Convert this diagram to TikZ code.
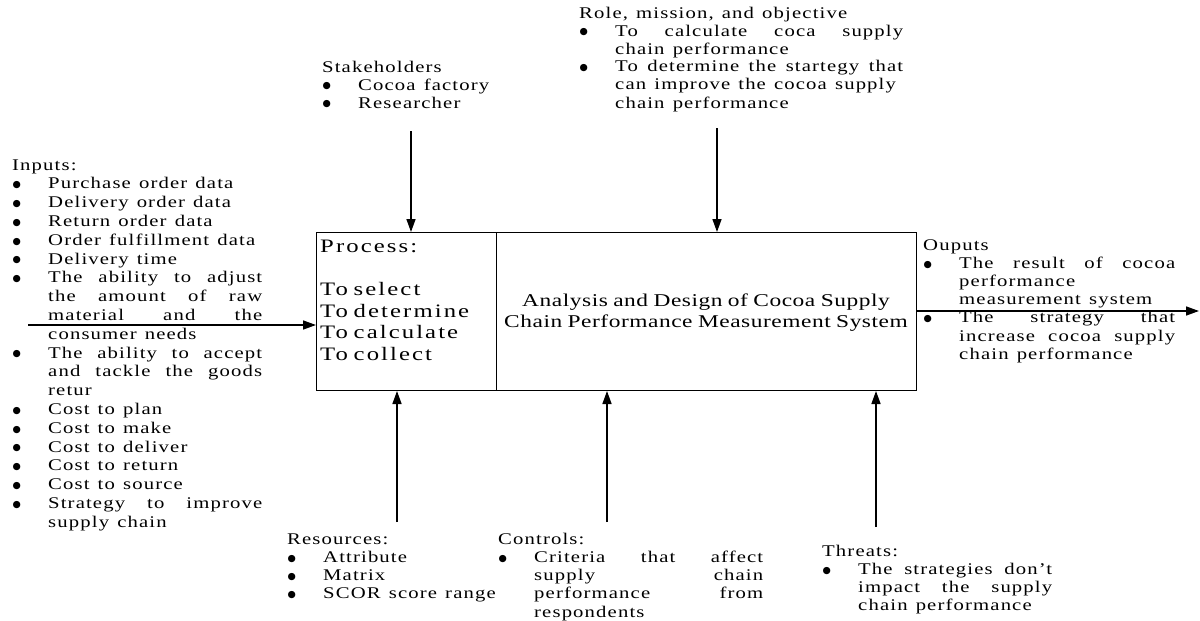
\documentclass[tikz,border=0pt]{standalone}
\usepackage{fontspec}
\setmainfont{Liberation Serif}[FakeStretch=1.27,LetterSpace=7]
\newfontfamily\procfamily{Liberation Serif}[FakeStretch=1.3,LetterSpace=11]
\newfontfamily\ttlfamily{Liberation Serif}[FakeStretch=1.3,LetterSpace=3]
\newfontfamily\bulfamily{DejaVu Sans}
\usetikzlibrary{arrows.meta}
\newlength\indw
\setlength\indw{36pt}
\newcommand\bfnt{\fontsize{16.3}{18.8}\selectfont\spaceskip=0.5em plus 0.45em minus 0.05em\relax}
\newcommand\Bx{\hbox to\indw{\hskip0.5pt\raise1.2pt\hbox{\bulfamily\fontsize{9.5}{9.5}\selectfont ●}\hss}}
\newcommand\Ix{\hskip\indw}
\newcommand\LB[1]{\hbox{\Bx#1}}
\newcommand\LBJ[2]{\hbox{\Bx\hbox to #1{#2}}}
\newcommand\LC[1]{\hbox{\Ix#1}}
\newcommand\LCJ[2]{\hbox{\Ix\hbox to #1{#2}}}
\newcommand\LL[1]{\hbox{#1}}
\newcommand\Blk[2]{\vtop{\bfnt\baselineskip=#1\lineskiplimit=-50pt\lineskip=0pt #2}}
\tikzset{
  arr/.style={line width=1.5pt,-{Triangle[length=13pt,width=9pt]}},
  boxst/.style={draw,line width=1pt,inner sep=0pt,anchor=north west},
  txt/.style={anchor=base west,inner sep=0pt}
}
\begin{document}
\begin{tikzpicture}[x=1pt,y=-1pt]
\useasboundingbox (0,0) rectangle (1200,621);
\fill[white] (0,0) rectangle (1200,621);
% boxes
\node[boxst,minimum width=180pt,minimum height=158pt] (pbox) at (316,232) {};
\node[boxst,minimum width=420pt,minimum height=158pt] (mbox) at (496,232) {};
% process text
\node[txt] (ptext) at (320,252) {\vtop{\procfamily\fontsize{19}{21.7}\selectfont\spaceskip=0.3em\baselineskip=21.7pt
  \hbox{Process:}\hbox{}\hbox{To select}\hbox{To determine}\hbox{To calculate}\hbox{To collect}}};
% main title
\node[anchor=base,inner sep=0pt] (mtext) at (706,306) {\vtop{\ttlfamily\fontsize{18}{21}\selectfont\spaceskip=0.3em\baselineskip=21pt
  \halign{\hfil#\hfil\cr Analysis and Design of Cocoa Supply\cr Chain Performance Measurement System\cr}}};
% inputs
\node[txt] (inp) at (12,170) {\Blk{18.8pt}{%
  \LL{Inputs:}
  \LB{Purchase order data}
  \LB{Delivery order data}
  \LB{Return order data}
  \LB{Order fulfillment data}
  \LB{Delivery time}
  \LBJ{214pt}{The ability to adjust}
  \LCJ{214pt}{the amount of raw}
  \LCJ{214pt}{material and the}
  \LC{consumer needs}
  \LBJ{214pt}{The ability to accept}
  \LCJ{214pt}{and tackle the goods}
  \LC{retur}
  \LB{Cost to plan}
  \LB{Cost to make}
  \LB{Cost to deliver}
  \LB{Cost to return}
  \LB{Cost to source}
  \LBJ{214pt}{Strategy to improve}
  \LC{supply chain}}};
% outputs
\node[txt] (outp) at (923,250) {\Blk{18.2pt}{%
  \LL{Ouputs}
  \LBJ{216pt}{The result of cocoa}
  \LC{performance}
  \LC{measurement system}
  \LBJ{216pt}{The strategy that}
  \LCJ{216pt}{increase cocoa supply}
  \LC{chain performance}}};
% stakeholders
\node[txt] (stk) at (322,72) {\Blk{18pt}{%
  \LL{Stakeholders}
  \LB{Cocoa factory}
  \LB{Researcher}}};
% role
\node[txt] (role) at (579,18) {\Blk{18pt}{%
  \LL{Role, mission, and objective}
  \LBJ{288pt}{To calculate coca supply}
  \LC{chain performance}
  \LBJ{288pt}{To determine the startegy that}
  \LC{can improve the cocoa supply}
  \LC{chain performance}}};
% resources
\node[txt] (res) at (287,544) {\Blk{18.3pt}{%
  \LL{Resources:}
  \LB{Attribute}
  \LB{Matrix}
  \LB{SCOR score range}}};
% controls
\node[txt] (ctl) at (498,544) {\Blk{18.3pt}{%
  \LL{Controls:}
  \LBJ{229pt}{Criteria that affect}
  \LCJ{229pt}{supply chain}
  \LCJ{229pt}{performance from}
  \LC{respondents}}};
% threats
\node[txt] (thr) at (822,556) {\Blk{18.3pt}{%
  \LL{Threats:}
  \LBJ{194pt}{The strategies don’t}
  \LCJ{194pt}{impact the supply}
  \LC{chain performance}}};
% connector end points
\coordinate (stk0) at (411,131);
\coordinate (role0) at (717,128);
\coordinate (in0) at (28,325);
\coordinate (out1) at (1199,311);
\coordinate (res0) at (397,522);
\coordinate (ctl0) at (607,522);
\coordinate (thr0) at (876,527);
% connectors
\draw[arr] (stk0) -- (stk0 |- pbox.north);
\draw[arr] (role0) -- (role0 |- mbox.north);
\draw[arr] (in0) -- (in0 -| pbox.west);
\draw[arr] (mbox.east |- out1) -- (out1);
\draw[arr] (res0) -- (res0 |- pbox.south);
\draw[arr] (ctl0) -- (ctl0 |- mbox.south);
\draw[arr] (thr0) -- (thr0 |- mbox.south);
\end{tikzpicture}
\end{document}
